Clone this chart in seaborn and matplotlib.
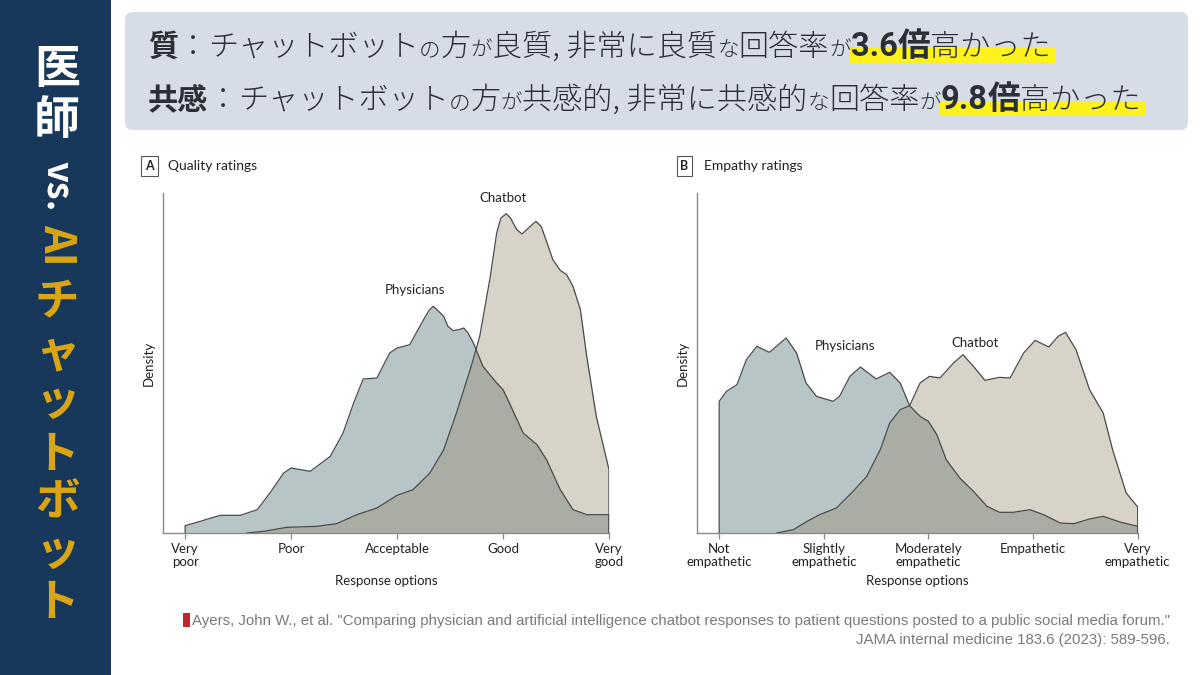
import numpy as np
import pandas as pd
import matplotlib.pyplot as plt
import seaborn as sns
from matplotlib.patches import FancyBboxPatch, Rectangle

# ----------------------
# Data (density in relative units)
# ----------------------
QUALITY_TICKS = ["Very\npoor", "Poor", "Acceptable", "Good", "Very\ngood"]
EMPATHY_TICKS = ["Not\nempathetic", "Slightly\nempathetic", "Moderately\nempathetic",
                 "Empathetic", "Very\nempathetic"]

quality_phys_x = [0, 0.11, 0.33, 0.52, 0.68, 0.80, 0.93, 1.00, 1.18, 1.37, 1.49, 1.59,
                  1.68, 1.81, 1.93, 2.00, 2.12, 2.25, 2.30, 2.34, 2.37, 2.44, 2.48, 2.53,
                  2.58, 2.63, 2.67, 2.72, 2.81, 2.94, 3.00, 3.06, 3.19, 3.32, 3.41, 3.54,
                  3.66, 3.79, 4.00]
quality_phys_y = [0.022, 0.032, 0.053, 0.053, 0.070, 0.120, 0.180, 0.195, 0.185, 0.230,
                  0.300, 0.390, 0.462, 0.465, 0.540, 0.555, 0.565, 0.640, 0.667, 0.680,
                  0.672, 0.650, 0.620, 0.607, 0.610, 0.615, 0.600, 0.570, 0.500, 0.450,
                  0.430, 0.390, 0.300, 0.265, 0.220, 0.130, 0.070, 0.055, 0.055]

quality_chat_x = [0.58, 0.74, 0.96, 1.24, 1.43, 1.62, 1.81, 2.00, 2.15, 2.31, 2.44, 2.56,
                  2.69, 2.78, 2.83, 2.88, 2.94, 2.98, 3.03, 3.07, 3.13, 3.18, 3.24, 3.31,
                  3.36, 3.41, 3.47, 3.54, 3.60, 3.66, 3.73, 3.79, 3.88, 4.00]
quality_chat_y = [0.000, 0.005, 0.017, 0.020, 0.028, 0.055, 0.075, 0.113, 0.130, 0.180,
                  0.250, 0.360, 0.490, 0.590, 0.680, 0.770, 0.900, 0.945, 0.958, 0.945,
                  0.910, 0.897, 0.915, 0.935, 0.920, 0.875, 0.820, 0.788, 0.775, 0.740,
                  0.670, 0.530, 0.350, 0.190]

empathy_phys_x = [0, 0.07, 0.17, 0.26, 0.36, 0.48, 0.64, 0.74, 0.83, 0.93, 1.09, 1.15,
                  1.25, 1.35, 1.50, 1.63, 1.73, 1.82, 1.92, 2.00, 2.08, 2.17, 2.30, 2.43,
                  2.56, 2.68, 2.81, 2.97, 3.10, 3.26, 3.39, 3.54, 3.67, 3.83, 4.00]
empathy_phys_y = [0.395, 0.425, 0.445, 0.520, 0.560, 0.542, 0.585, 0.540, 0.450, 0.410,
                  0.395, 0.410, 0.470, 0.498, 0.462, 0.482, 0.450, 0.382, 0.350, 0.335,
                  0.295, 0.220, 0.165, 0.125, 0.080, 0.062, 0.062, 0.070, 0.055, 0.030,
                  0.028, 0.042, 0.050, 0.033, 0.020]

empathy_chat_x = [0.55, 0.71, 0.84, 0.96, 1.12, 1.28, 1.41, 1.54, 1.63, 1.73, 1.82, 1.92,
                  2.01, 2.11, 2.24, 2.33, 2.43, 2.54, 2.68, 2.78, 2.91, 3.02, 3.15, 3.24,
                  3.31, 3.41, 3.54, 3.67, 3.76, 3.89, 4.00]
empathy_chat_y = [0.000, 0.010, 0.035, 0.055, 0.075, 0.125, 0.170, 0.250, 0.330, 0.370,
                  0.382, 0.450, 0.470, 0.465, 0.510, 0.535, 0.500, 0.458, 0.467, 0.465,
                  0.540, 0.578, 0.558, 0.590, 0.602, 0.550, 0.430, 0.360, 0.250, 0.120,
                  0.078]

# ----------------------
# Style
# ----------------------
PHYS_COLOR = "#b8c5c6"
CHAT_COLOR = (147 / 255, 133 / 255, 105 / 255)   # drawn with alpha over the physicians fill
CHAT_ALPHA = 0.36
EDGE = "#4a4a4a"
NAVY = "#17385b"
GOLD = "#d9a514"
CJK = ["Noto Sans CJK JP", "DejaVu Sans"]

sns.set_theme(style="white")
plt.rcParams["font.family"] = ["Lato", "DejaVu Sans"]


def closed(xs, ys):
    # add the zero ends so the outline drops to the baseline
    xs = np.asarray(xs, dtype=float)
    ys = np.asarray(ys, dtype=float)
    return np.r_[xs[0], xs, xs[-1]], np.r_[0.0, ys, 0.0]


def draw_panel(ax, phys, chat, ticks, labels):
    px, py = closed(*phys)
    cx, cy = closed(*chat)
    ax.fill_between(px, py, color=PHYS_COLOR, lw=0, zorder=1)
    ax.fill_between(cx, cy, color=CHAT_COLOR, alpha=CHAT_ALPHA, lw=0, zorder=2)
    df_p = pd.DataFrame({"x": px, "y": py})
    df_c = pd.DataFrame({"x": cx, "y": cy})
    for df in (df_p, df_c):
        sns.lineplot(data=df, x="x", y="y", ax=ax, color=EDGE, lw=0.9,
                     sort=False, estimator=None, zorder=3)

    ax.set_xlim(-0.212, 4.0)
    ax.set_ylim(0, 1.02)
    ax.set_xticks(range(5))
    ax.set_xticklabels(ticks, fontsize=9.5, color="#222222", linespacing=1.1)
    ax.set_yticks([])
    ax.tick_params(axis="x", bottom=True, length=4, width=0.9, color="#8a8a8a", pad=3)
    ax.set_xlabel("Response options", fontsize=9.5, color="#222222", labelpad=5)
    ax.set_ylabel("Density", fontsize=9.5, color="#222222", labelpad=6)
    for side in ["top", "right"]:
        ax.spines[side].set_visible(False)
    for side in ["left", "bottom"]:
        ax.spines[side].set_color("#8a8a8a")
        ax.spines[side].set_linewidth(1.0)
    ax.patch.set_alpha(0)
    for text, x, y in labels:
        ax.text(x, y, text, fontsize=9.5, color="#222222", ha="center", va="center")


def draw_runs(ax, renderer, x, y, runs):
    # place text pieces one after another, return their pixel extents
    spans = []
    for text, size, weight, family in runs:
        t = ax.text(x, y, text, fontsize=size, fontweight=weight, family=family,
                    color="#2b2f36", va="baseline", ha="left", zorder=3)
        bb = t.get_window_extent(renderer)
        spans.append((x, x + bb.width))
        x += bb.width
    return spans


fig = plt.figure(figsize=(12, 6.75), dpi=100)
fig.patch.set_facecolor("white")

# background layer in pixel coordinates
bg = fig.add_axes([0, 0, 1, 1], zorder=0)
bg.set_xlim(0, 1200)
bg.set_ylim(675, 0)
bg.axis("off")
renderer = fig.canvas.get_renderer()

# left side bar
bg.add_patch(Rectangle((0, 0), 111, 675, color=NAVY, lw=0, zorder=1))
side_chars = [("医", 70, "white", 0, 33), ("師", 121, "white", 0, 33),
              ("vs.", 186, "white", 270, 26), ("AI", 245, GOLD, 270, 31),
              ("チ", 302, GOLD, 0, 32), ("ャ", 353, GOLD, 0, 32), ("ッ", 402, GOLD, 0, 32),
              ("ト", 455, GOLD, 0, 32), ("ボ", 503, GOLD, 0, 32), ("ッ", 552, GOLD, 0, 32),
              ("ト", 603, GOLD, 0, 32)]
for ch, yy, col, rot, size in side_chars:
    bg.text(57, yy, ch, color=col, fontsize=size, fontweight="bold", family=CJK,
            rotation=rot, ha="center", va="center", zorder=2)

# headline banner
bg.add_patch(FancyBboxPatch((125, 12), 1063, 118,
                            boxstyle="round,pad=0,rounding_size=8",
                            fc="#d6dde7", ec="none", zorder=1))
BIG, SMALL, NUM = 21.7, 15.5, 23.5
LIGHT = 300
num_family = ["Roboto", "Noto Sans CJK JP"]
line1 = [("質", BIG, "bold", CJK), ("：", BIG, LIGHT, CJK),
         ("チャットボット", BIG, LIGHT, CJK), ("の", SMALL, LIGHT, CJK),
         ("方", BIG, LIGHT, CJK), ("が", SMALL, LIGHT, CJK),
         ("良質, 非常に良質", BIG, LIGHT, CJK), ("な", SMALL, LIGHT, CJK),
         ("回答率", BIG, LIGHT, CJK), ("が", SMALL, LIGHT, CJK),
         ("3.6", NUM, "bold", num_family), ("倍", NUM, "bold", CJK),
         ("高かった", BIG, LIGHT, CJK)]
line2 = [("共感", BIG, "bold", CJK), ("：", BIG, LIGHT, CJK),
         ("チャットボット", BIG, LIGHT, CJK), ("の", SMALL, LIGHT, CJK),
         ("方", BIG, LIGHT, CJK), ("が", SMALL, LIGHT, CJK),
         ("共感的, 非常に共感的", BIG, LIGHT, CJK), ("な", SMALL, LIGHT, CJK),
         ("回答率", BIG, LIGHT, CJK), ("が", SMALL, LIGHT, CJK),
         ("9.8", NUM, "bold", num_family), ("倍", NUM, "bold", CJK),
         ("高かった", BIG, LIGHT, CJK)]
for runs, base in [(line1, 56), (line2, 109)]:
    spans = draw_runs(bg, renderer, 148, base, runs)
    x0, x1 = spans[-3][0] - 2, spans[-1][1] + 4
    bg.add_patch(Rectangle((x0, base - 8), x1 - x0, 15, color="#fdf21c", lw=0, zorder=2))

# panel headers
for letter, title, xb in [("A", "Quality ratings", 149.5), ("B", "Empathy ratings", 684.5)]:
    bg.text(xb, 166, letter, fontsize=9, fontweight="bold", color="#222222",
            ha="center", va="center", zorder=2,
            bbox=dict(boxstyle="square,pad=0.3", fc="white", ec="#555555", lw=0.8))
    bg.text(xb + 19, 166, title, fontsize=10, color="#222222", ha="left", va="center", zorder=2)

# citation, shrunk so the first line runs from the icon to x=1170
bg.add_patch(Rectangle((183, 613), 7, 14, color="#c0272d", lw=0, zorder=2))
cite_family = ["Liberation Sans Narrow", "Liberation Sans"]
cite1 = bg.text(192, 621, 'Ayers, John W., et al. "Comparing physician and artificial intelligence '
                'chatbot responses to patient questions posted to a public social media forum."',
                fontsize=12, color="#7a7a7a", family=cite_family, ha="left", va="center", zorder=2)
cite_size = 12 * (1170 - 192) / cite1.get_window_extent(renderer).width
cite1.set_fontsize(cite_size)
bg.text(1170, 640, "JAMA internal medicine 183.6 (2023): 589-596.",
        fontsize=cite_size, color="#7a7a7a", family=cite_family, ha="right", va="center", zorder=2)

# ----------------------
# Density panels
# ----------------------
ax_a = fig.add_axes([162.7 / 1200, 142 / 675, (609 - 162.7) / 1200, 340 / 675], zorder=1)
draw_panel(ax_a, (quality_phys_x, quality_phys_y), (quality_chat_x, quality_chat_y),
           QUALITY_TICKS, [("Chatbot", 3.0, 1.005), ("Physicians", 2.17, 0.73)])

ax_b = fig.add_axes([697 / 1200, 142 / 675, (1137.7 - 697) / 1200, 340 / 675], zorder=1)
draw_panel(ax_b, (empathy_phys_x, empathy_phys_y), (empathy_chat_x, empathy_chat_y),
           EMPATHY_TICKS, [("Physicians", 1.2, 0.561), ("Chatbot", 2.45, 0.57)])

fig.savefig("out.png", dpi=100)
